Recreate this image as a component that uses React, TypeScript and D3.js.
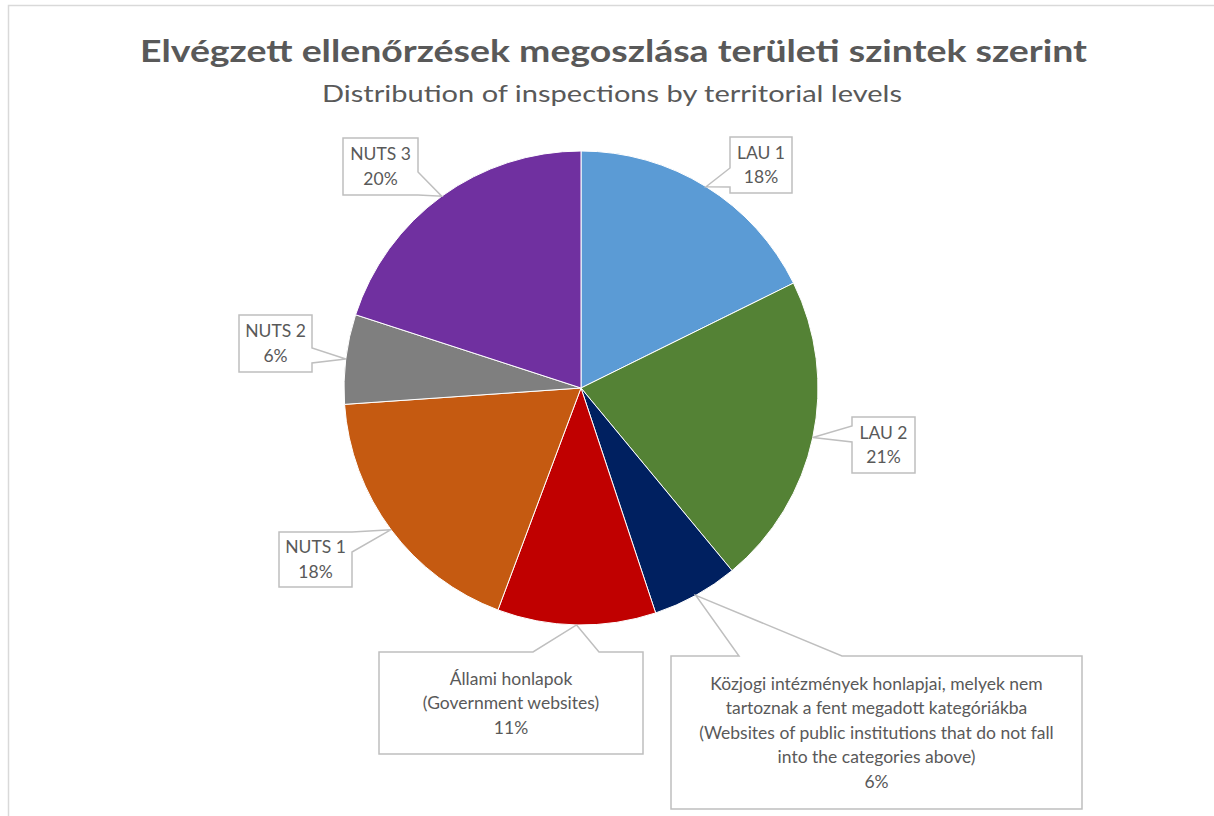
import React from "react";
import * as d3 from "d3";

const categories = [
  "LAU 1",
  "LAU 2",
  "Közjogi intézmények honlapjai",
  "Állami honlapok",
  "NUTS 1",
  "NUTS 2",
  "NUTS 3",
];
const values = [17.7, 21.3, 5.9, 10.8, 18.2, 6.1, 20.0];
const labelLines = [
  ["LAU 1"],
  ["LAU 2"],
  [
    "Közjogi intézmények honlapjai, melyek nem",
    "tartoznak a fent megadott kategóriákba",
    "(Websites of public institutions that do not fall",
    "into the categories above)",
  ],
  ["Állami honlapok", "(Government websites)"],
  ["NUTS 1"],
  ["NUTS 2"],
  ["NUTS 3"],
];
const colors = ["#5B9BD5", "#548235", "#002060", "#C00000", "#C55A11", "#7F7F7F", "#7030A0"];

const title = "Elvégzett ellenőrzések megoszlása területi szintek szerint";
const subtitle = "Distribution of inspections by territorial levels";

// callout layout: box and the pointer base along one side
type Box = { x: number; y: number; w: number; h: number; side: "left" | "right" | "top"; b0: number; b1: number };
const boxes: Box[] = [
  { x: 730, y: 137, w: 62, h: 56, side: "left", b0: 168, b1: 187 },
  { x: 852, y: 417, w: 63, h: 56, side: "left", b0: 426, b1: 442 },
  { x: 671, y: 656, w: 411, h: 153, side: "top", b0: 739, b1: 842 },
  { x: 379, y: 652, w: 264, h: 102, side: "top", b0: 533, b1: 599 },
  { x: 279, y: 532, w: 73, h: 55, side: "right", b0: 532, b1: 552 },
  { x: 239, y: 315, w: 73, h: 57, side: "right", b0: 348, b1: 363 },
  { x: 343, y: 138, w: 75, h: 57, side: "right", b0: 172, b1: 195 },
];

const cx = 581;
const cy = 388;
const R = 237;
const FONT = "Lato, 'Open Sans', sans-serif";

function calloutPath(b: Box, tx: number, ty: number) {
  const { x, y, w, h, side, b0, b1 } = b;
  if (side === "right")
    return `M${x},${y}H${x + w}V${b0}L${tx},${ty}L${x + w},${b1}V${y + h}H${x}Z`;
  if (side === "left")
    return `M${x},${y}H${x + w}V${y + h}H${x}V${b1}L${tx},${ty}L${x},${b0}Z`;
  return `M${x},${y}H${b0}L${tx},${ty}L${b1},${y}H${x + w}V${y + h}H${x}Z`;
}

export default function App() {
  const total = d3.sum(values);
  const pie = d3.pie<number>().sort(null).startAngle(0).endAngle(2 * Math.PI)(values);
  const arc = d3.arc<d3.PieArcDatum<number>>().innerRadius(0).outerRadius(R);
  const lineH = 24.5;

  return (
    <svg width={1214} height={816} style={{ position: "absolute", left: 0, top: 0 }}>
      <rect x={0} y={0} width={1214} height={816} fill="#fff" />
      <rect x={8.5} y={5.5} width={1300} height={900} fill="#fff" stroke="#D9D9D9" strokeWidth={1.5} />
      <text
        x={613.5}
        y={62}
        textAnchor="middle"
        fontFamily={FONT}
        fontWeight="bold"
        fontSize={31}
        fill="#595959"
        textLength={947}
        lengthAdjust="spacingAndGlyphs"
      >
        {title}
      </text>
      <text
        x={612}
        y={102}
        textAnchor="middle"
        fontFamily={FONT}
        fontSize={24}
        fill="#595959"
        textLength={580}
        lengthAdjust="spacingAndGlyphs"
      >
        {subtitle}
      </text>
      <g transform={`translate(${cx},${cy})`}>
        {pie.map((d, i) => (
          <path key={categories[i]} d={arc(d) || ""} fill={colors[i]} stroke="#fff" strokeWidth={1} />
        ))}
      </g>
      {pie.map((d, i) => {
        const a = (d.startAngle + d.endAngle) / 2;
        const tx = cx + R * Math.sin(a);
        const ty = cy - R * Math.cos(a);
        const b = boxes[i];
        const lines = [...labelLines[i], `${Math.round((values[i] / total) * 100)}%`];
        const midY = b.y + b.h / 2;
        const startY = midY - ((lines.length - 1) * lineH) / 2;
        return (
          <g key={"lbl" + i}>
            <path d={calloutPath(b, tx, ty)} fill="#fff" stroke="#BFBFBF" strokeWidth={1.5} />
            <text
              textAnchor="middle"
              fontFamily={FONT}
              fontSize={17.5}
              fill="#595959"
            >
              {lines.map((l, j) => (
                <tspan key={j} x={b.x + b.w / 2} y={startY + j * lineH} dy="0.35em">
                  {l}
                </tspan>
              ))}
            </text>
          </g>
        );
      })}
    </svg>
  );
}
